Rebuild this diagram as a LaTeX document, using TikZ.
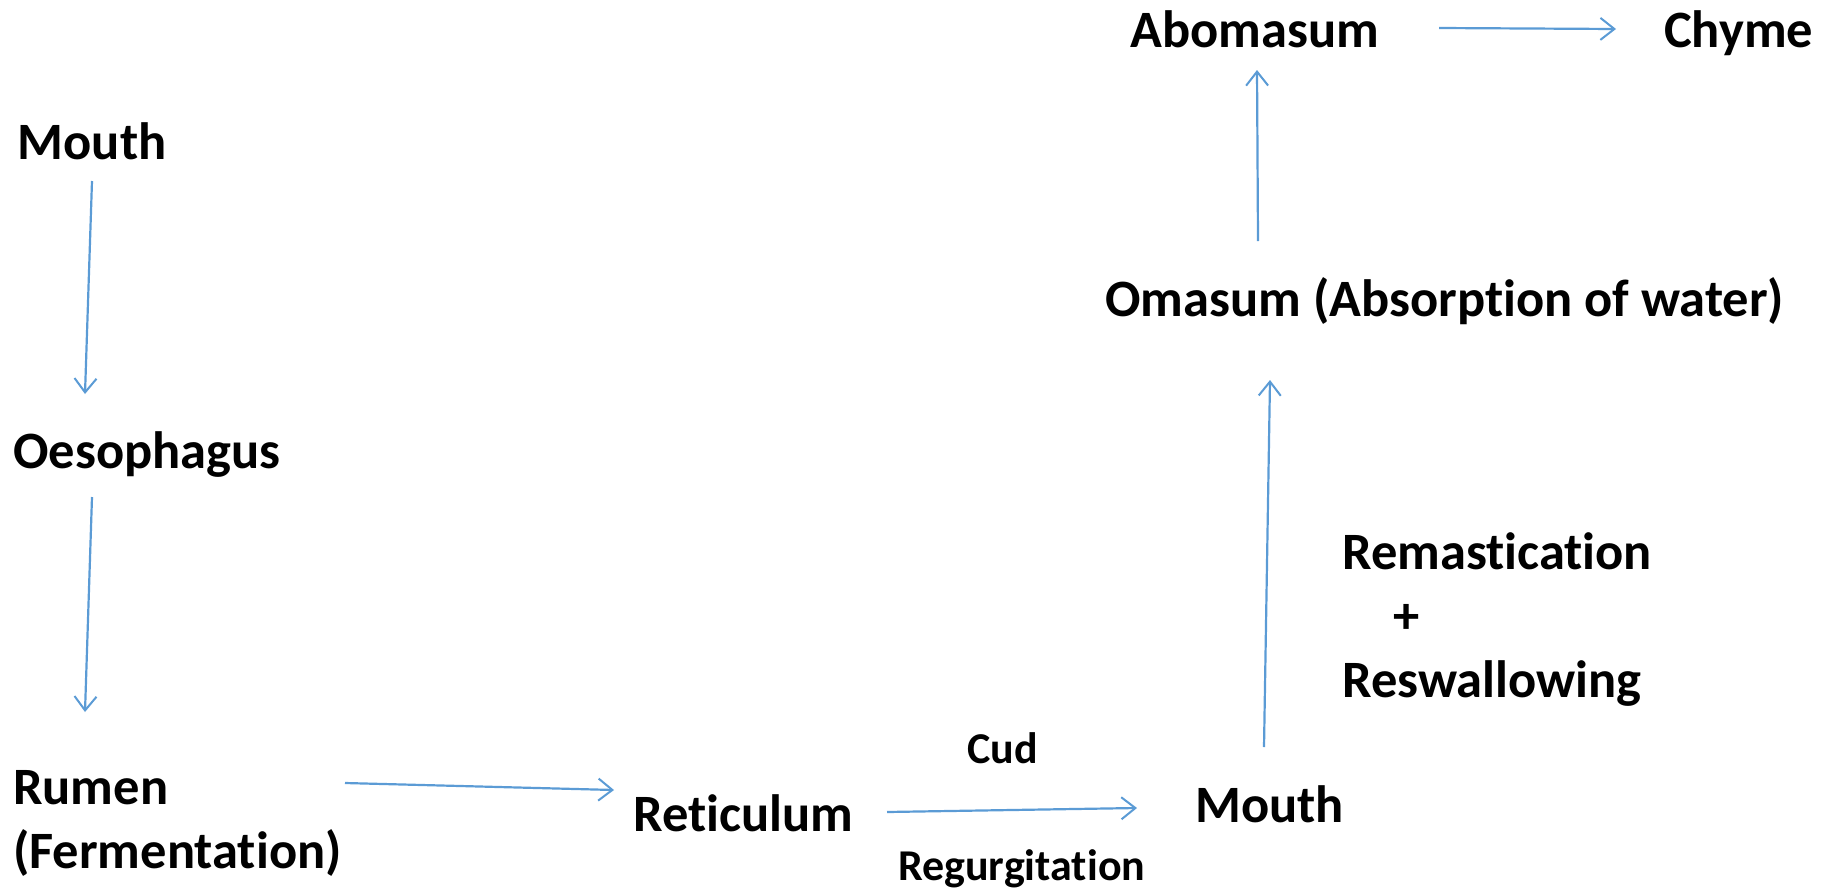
\documentclass[tikz,border=0pt]{standalone}
\usepackage{fontspec}
\setmainfont{Carlito}[Ligatures=NoCommon]
\usetikzlibrary{arrows.meta}

\definecolor{flowblue}{RGB}{91,155,213}
\tikzset{
  organ/.style={inner sep=0pt, anchor=base west, align=left,
    font=\bfseries\fontsize{52.5}{64}\selectfont},
  note/.style={organ, font=\bfseries\fontsize{44}{53}\selectfont},
  flow/.style={draw=flowblue, line width=2.2pt,
    -{Straight Barb[length=14pt, width=22pt, line width=2pt]}}
}

\begin{document}
\begin{tikzpicture}[x=1pt, y=-1pt]
\useasboundingbox (0,0) rectangle (1835,889);
\node[organ] (mouthA) at (17.5, 159){Mouth};
\node[organ] (oeso) at (13, 468){Oesophagus};
\node[organ] (rumen) at (13, 868){Rumen\\(Fermentation)};
\node[organ] (retic) at (633, 831){Reticulum};
\node[organ] (mouthB) at (1195, 822){Mouth};
\node[note] (cud) at (967, 763){Cud};
\node[note] (regurg) at (898, 880){Regurgitation};
\node[organ] (remast) at (1342, 697){Remastication\\\hspace{51pt}+\\Reswallowing};
\node[organ] (omasum) at (1105, 316){Omasum (Absorption of water)};
\node[organ] (aboma) at (1130, 47){Abomasum};
\node[organ] (chyme) at (1664, 47){Chyme};
\draw[flow] ([shift={(74.5,22)}]mouthA.base west) -- ([shift={(72,-74)}]oeso.base west);
\draw[flow] ([shift={(79,29)}]oeso.base west) -- ([shift={(72,-156)}]rumen.base west);
\draw[flow] ([shift={(332,-85)}]rumen.base west) -- ([shift={(-19,-41)}]retic.base west);
\draw[flow] ([shift={(254,-19)}]retic.base west) -- ([shift={(-58,-14)}]mouthB.base west);
\draw[flow] ([shift={(69,-75)}]mouthB.base west) -- ([shift={(165,64)}]omasum.base west);
\draw[flow] ([shift={(153,-75)}]omasum.base west) -- ([shift={(127,23)}]aboma.base west);
\draw[flow] ([shift={(309,-19)}]aboma.base west) -- ([shift={(-48,-18)}]chyme.base west);
\end{tikzpicture}
\end{document}
